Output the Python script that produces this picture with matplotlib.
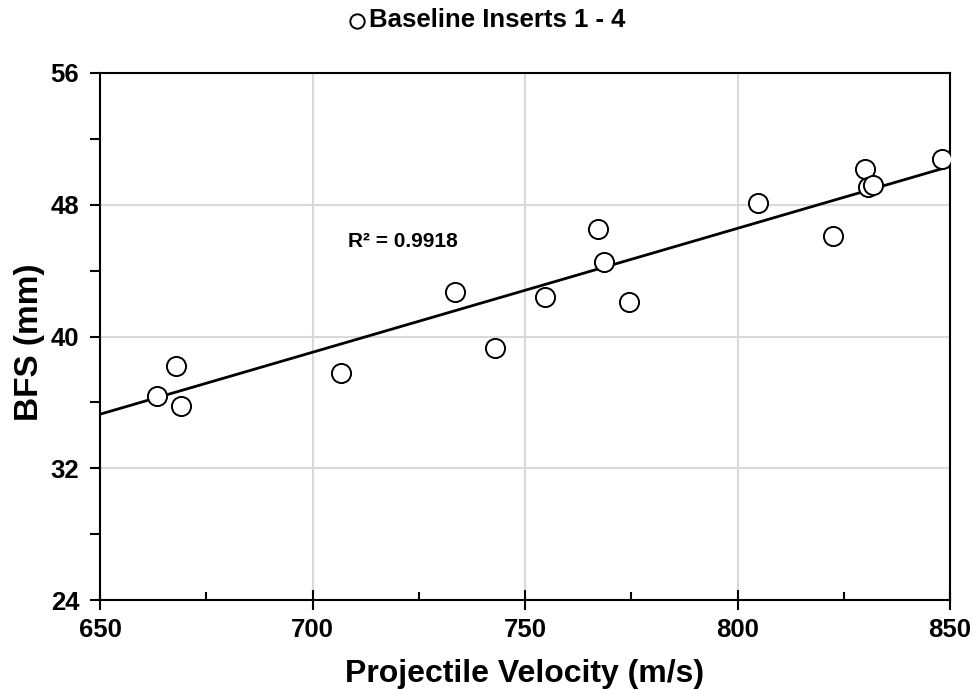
import matplotlib.pyplot as plt
from matplotlib.ticker import MultipleLocator

plt.rcParams['font.family'] = ['Liberation Sans', 'DejaVu Sans']
plt.rcParams['font.weight'] = 'bold'

# measured points (velocity m/s, back face signature mm)
velocity = [663.4, 667.9, 669.1, 706.7, 733.6, 742.9, 754.6, 767.2,
            768.5, 774.5, 804.8, 822.4, 830.0, 830.8, 831.9, 848.1]
bfs = [36.4, 38.2, 35.8, 37.8, 42.7, 39.3, 42.4, 46.5,
       44.5, 42.1, 48.1, 46.1, 50.2, 49.1, 49.2, 50.8]

# trendline as drawn in the original
trend_x = [650, 850]
trend_y = [35.28, 50.33]

x_ticks = [650, 700, 750, 800, 850]
y_ticks = [24, 32, 40, 48, 56]

fig = plt.figure(figsize=(9.73, 6.90), dpi=100)
ax = fig.add_axes([100 / 973, 90 / 690, 850 / 973, 527 / 690])

ax.grid(True, color='#d9d9d9', linewidth=1.5, zorder=0)
ax.plot(trend_x, trend_y, color='black', linewidth=2, zorder=2)
ax.scatter(velocity, bfs, s=190, facecolor='white', edgecolor='black',
           linewidth=1.4, zorder=3, label='Baseline Inserts 1 - 4')

ax.set_xlim(650, 850)
ax.set_ylim(24, 56)
ax.set_xticks(x_ticks)
ax.set_yticks(y_ticks)
ax.xaxis.set_minor_locator(MultipleLocator(25))
ax.yaxis.set_minor_locator(MultipleLocator(4))
ax.tick_params(axis='x', which='major', direction='inout', length=14, width=1.5, labelsize=18.5, pad=6)
ax.tick_params(axis='x', which='minor', direction='in', length=6, width=1.5)
ax.tick_params(axis='y', which='both', direction='out', length=7, width=1.5, labelsize=18.5, pad=8)
for sp in ax.spines.values():
    sp.set_linewidth(1.5)

ax.set_xlabel('Projectile Velocity (m/s)', fontsize=23, fontweight='bold', labelpad=12)
ax.set_ylabel('BFS (mm)', fontsize=24, fontweight='bold')
ax.yaxis.set_label_coords(-0.065, 0.49)

ax.text(708.4, 45.75, 'R² = 0.9918', fontsize=15, fontweight='bold', va='center')

ax.legend(loc='center', bbox_to_anchor=(0.445, 1.10), frameon=False,
          fontsize=18.5, handletextpad=-0.55, markerscale=0.75, borderaxespad=0)

fig.savefig('out.png', dpi=100)
